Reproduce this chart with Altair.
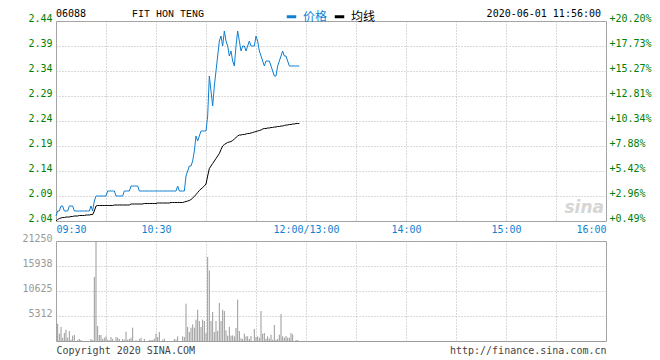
import altair as alt
import pandas as pd

# ---------------- data ----------------
header_code = "06088"
header_name = "FIT HON TENG"
header_time = "2020-06-01 11:56:00"
series_names = ["价格", "均线"]
footer_left = "Copyright 2020 SINA.COM"
footer_right = "http://finance.sina.com.cn"
watermark = "sina"

# one value per trading minute from 09:30 to 11:56
price = [
    2.05, 2.06, 2.06, 2.07, 2.07, 2.06, 2.06, 2.06, 2.07, 2.07,
    2.07, 2.06, 2.06, 2.06, 2.06, 2.06, 2.06, 2.06, 2.06, 2.06,
    2.06, 2.07, 2.06, 2.08, 2.09, 2.09, 2.09, 2.09, 2.09, 2.09,
    2.09, 2.10, 2.10, 2.10, 2.10, 2.10, 2.09, 2.09, 2.09, 2.09,
    2.09, 2.10, 2.10, 2.10, 2.10, 2.11, 2.11, 2.11, 2.11, 2.11,
    2.10, 2.10, 2.10, 2.10, 2.10, 2.10, 2.10, 2.10, 2.10, 2.10,
    2.10, 2.10, 2.10, 2.10, 2.10, 2.10, 2.10, 2.10, 2.10, 2.10,
    2.10, 2.10, 2.10, 2.11, 2.10, 2.10, 2.10, 2.10, 2.13, 2.14,
    2.15, 2.15, 2.16, 2.18, 2.21, 2.20, 2.21, 2.22, 2.22, 2.22,
    2.22, 2.25, 2.33, 2.30, 2.27, 2.31, 2.34, 2.37, 2.40, 2.41,
    2.39, 2.42, 2.40, 2.39, 2.37, 2.38, 2.36, 2.35, 2.39, 2.42,
    2.40, 2.38, 2.39, 2.39, 2.38, 2.39, 2.40, 2.39, 2.39, 2.39,
    2.41, 2.40, 2.38, 2.37, 2.36, 2.35, 2.36, 2.36, 2.36, 2.35,
    2.34, 2.33, 2.33, 2.35, 2.36, 2.37, 2.38, 2.37, 2.37, 2.36,
    2.35, 2.35, 2.35, 2.35, 2.35, 2.35, 2.35,
]
avg = [
    2.040, 2.043, 2.045, 2.046, 2.047, 2.047, 2.048, 2.048, 2.048, 2.049,
    2.049, 2.050, 2.050, 2.050, 2.051, 2.051, 2.051, 2.051, 2.052, 2.052,
    2.052, 2.053, 2.053, 2.060, 2.070, 2.071, 2.071, 2.071, 2.071, 2.071,
    2.071, 2.071, 2.071, 2.071, 2.071, 2.072, 2.072, 2.072, 2.072, 2.072,
    2.072, 2.072, 2.072, 2.072, 2.072, 2.074, 2.074, 2.074, 2.074, 2.074,
    2.074, 2.074, 2.074, 2.075, 2.075, 2.075, 2.075, 2.075, 2.075, 2.075,
    2.075, 2.076, 2.076, 2.076, 2.076, 2.076, 2.076, 2.076, 2.076, 2.077,
    2.077, 2.077, 2.077, 2.077, 2.077, 2.077, 2.077, 2.078, 2.079, 2.080,
    2.081, 2.083, 2.086, 2.089, 2.093, 2.097, 2.101, 2.104, 2.107, 2.110,
    2.114, 2.130, 2.145, 2.150, 2.155, 2.160, 2.165, 2.170, 2.175, 2.183,
    2.190, 2.193, 2.195, 2.197, 2.198, 2.199, 2.201, 2.204, 2.207, 2.210,
    2.212, 2.212, 2.213, 2.213, 2.214, 2.215, 2.215, 2.216, 2.217, 2.218,
    2.219, 2.220, 2.221, 2.222, 2.224, 2.225, 2.225, 2.226, 2.226, 2.227,
    2.227, 2.228, 2.228, 2.229, 2.229, 2.230, 2.230, 2.231, 2.232, 2.232,
    2.233, 2.233, 2.234, 2.234, 2.235, 2.235, 2.235,
]
volume = [
    0, 3680, 1560, 2975, 700, 1700, 2400, 700, 2100, 280,
    1130, 1275, 0, 200, 425, 200, 0, 0, 0, 0,
    0, 425, 200, 13600, 21250, 3190, 1275, 1275, 425, 700,
    990, 280, 140, 850, 425, 0, 850, 700, 425, 0,
    425, 280, 1980, 280, 425, 700, 2830, 0, 200, 0,
    425, 700, 0, 425, 0, 0, 200, 200, 200, 500,
    1560, 850, 1900, 0, 280, 500, 0, 0, 0, 0,
    0, 425, 280, 990, 0, 0, 990, 850, 7930, 2975,
    1900, 2830, 3540, 2830, 4530, 6660, 4250, 2975, 4530, 4250,
    1700, 17850, 15000, 4250, 6160, 1900, 4250, 2125, 8070, 4250,
    6660, 6375, 2270, 1130, 2975, 1130, 1200, 990, 2760, 8780,
    2125, 570, 425, 1560, 990, 990, 425, 1060, 0, 2550,
    850, 990, 700, 6375, 1560, 1700, 500, 990, 500, 1345,
    280, 3400, 280, 425, 1345, 5740, 990, 700, 1060, 700,
    700, 1700, 1400, 0, 200, 200, 0,
]

price_ticks = [2.04, 2.09, 2.14, 2.19, 2.24, 2.29, 2.34, 2.39, 2.44]
pct_labels = ["+0.49%", "+2.96%", "+5.42%", "+7.88%", "+10.34%",
              "+12.81%", "+15.27%", "+17.73%", "+20.20%"]
vol_ticks = [5312.5, 10625, 15937.5, 21250]
vol_labels = ["5312", "10625", "15938", "21250"]
grid_minutes = [0, 30, 60, 90, 120, 150, 180, 210, 240, 270, 300, 330]
time_ticks = [0, 60, 150, 210, 270, 330]
time_labels = ["09:30", "10:30", "12:00/13:00", "14:00", "15:00", "16:00"]

# ---------------- styling ----------------
MONO = "DejaVu Sans Mono"
CJK = "Noto Sans CJK SC"
BLUE = "#0f7fd2"
GREEN = "#008000"
GRID = "#b4b4b4"
FRAME = "#9c9c9c"

df_line = pd.DataFrame({
    "m": list(range(len(price))) + list(range(len(avg))),
    "value": price + avg,
    "series": [series_names[0]] * len(price) + [series_names[1]] * len(avg),
})
df_avg = pd.DataFrame({"m": list(range(len(avg))), "avg": avg})
df_vol = pd.DataFrame({"m": list(range(len(volume))), "vol": volume})

time_expr = "".join(
    f"datum.value == {t} ? '{l}' : " for t, l in zip(time_ticks, time_labels)) + "''"
pct_expr = "".join(
    f"round(datum.value * 100) == {int(round(t * 100))} ? '{l}' : "
    for t, l in zip(price_ticks, pct_labels)) + "''"
vol_expr = "".join(
    f"datum.value == {t} ? '{l}' : " for t, l in zip(vol_ticks, vol_labels)) + "''"
foot_expr = (f"datum.value == 0 ? '{footer_left}' : "
             f"datum.value == 330 ? '{footer_right}' : ''")

x_scale = alt.Scale(domain=[0, 330], nice=False, zero=False)
grid_style = dict(grid=True, gridColor=GRID, gridDash=[1, 2], gridWidth=1,
                  ticks=False, domain=False, title=None)

x_axis_price = alt.Axis(values=grid_minutes, labelExpr=time_expr,
                        labelColor=BLUE, labelFont=MONO, labelFontSize=10,
                        labelPadding=3, labelFlush=True, labelOverlap=False,
                        labelBaseline="top", **grid_style)
x_axis_vol = alt.Axis(values=grid_minutes, labelExpr=foot_expr,
                      labelColor="#444444", labelFont=MONO, labelFontSize=10,
                      labelPadding=4, labelFlush=True, labelOverlap=False,
                      labelBaseline="top", **grid_style)

y_scale = alt.Scale(domain=[2.04, 2.44], nice=False, zero=False)
y_left = alt.Axis(values=price_ticks, format=".2f", orient="left",
                  labelColor=GREEN, labelFont=MONO, labelFontSize=10,
                  labelPadding=4, labelBaseline="alphabetic", **grid_style)
y_right = alt.Axis(values=price_ticks, labelExpr=pct_expr, orient="right",
                   grid=False, ticks=False, domain=False, title=None,
                   labelColor=GREEN, labelFont=MONO, labelFontSize=10,
                   labelPadding=3, labelAlign="left", labelBaseline="alphabetic")

legend = alt.Legend(
    orient="none", legendX=229, legendY=-11, direction="horizontal",
    title=None, symbolType="stroke", symbolStrokeWidth=3, symbolSize=90,
    labelFont=CJK, labelFontSize=12, labelOffset=5, columnPadding=0,
    padding=0, rowPadding=0,
    labelColor={"expr": f"datum.label == '{series_names[0]}' ? '{BLUE}' : '#000000'"},
)

lines = alt.Chart(df_line).mark_line(strokeWidth=1).encode(
    x=alt.X("m:Q", scale=x_scale, axis=x_axis_price),
    y=alt.Y("value:Q", scale=y_scale, axis=y_left),
    color=alt.Color("series:N",
                    scale=alt.Scale(domain=series_names, range=[BLUE, "#000000"]),
                    legend=legend),
    detail="series:N",
)
right_axis = alt.Chart(df_avg).mark_line(opacity=0).encode(
    x=alt.X("m:Q", scale=x_scale, axis=x_axis_price),
    y=alt.Y("avg:Q", scale=y_scale, axis=y_right),
)

def header(txt, x, align, font=MONO):
    return alt.Chart(pd.DataFrame({"t": [txt]})).mark_text(
        align=align, baseline="middle", font=font, fontSize=10, color="#000000"
    ).encode(x=alt.value(x), y=alt.value(-7), text="t:N")

wm = alt.Chart(pd.DataFrame({"t": [watermark]})).mark_text(
    align="right", baseline="alphabetic", font="DejaVu Sans", fontSize=17,
    fontStyle="italic", fontWeight="bold", color="#d6d6d6"
).encode(x=alt.value(548), y=alt.value(192), text="t:N")

price_panel = alt.layer(
    lines, right_axis, wm,
    header(header_code, 0, "left"),
    header(header_name, 76, "left", "Liberation Mono"),
    header(header_time, 545, "right"),
).resolve_scale(y="shared").resolve_axis(y="independent").properties(
    width=550, height=200)

vol_panel = alt.Chart(df_vol).mark_rule(color="#999999", strokeWidth=1).encode(
    x=alt.X("m:Q", scale=x_scale, axis=x_axis_vol),
    y=alt.Y("vol:Q", scale=alt.Scale(domain=[0, 21250], nice=False, zero=True),
            axis=alt.Axis(values=vol_ticks, labelExpr=vol_expr, orient="left",
                          labelColor="#999999", labelFont=MONO, labelFontSize=10,
                          labelPadding=4, labelBaseline="alphabetic", **grid_style)),
    y2=alt.datum(0),
).properties(width=550, height=100)

chart = alt.vconcat(price_panel, vol_panel, spacing=20, bounds="flush").properties(
    padding={"left": 13, "top": 0, "right": 0, "bottom": 0}
).configure_view(stroke=FRAME, strokeWidth=1)

chart.save("out.html", embed_options={"renderer": "svg", "actions": False})
